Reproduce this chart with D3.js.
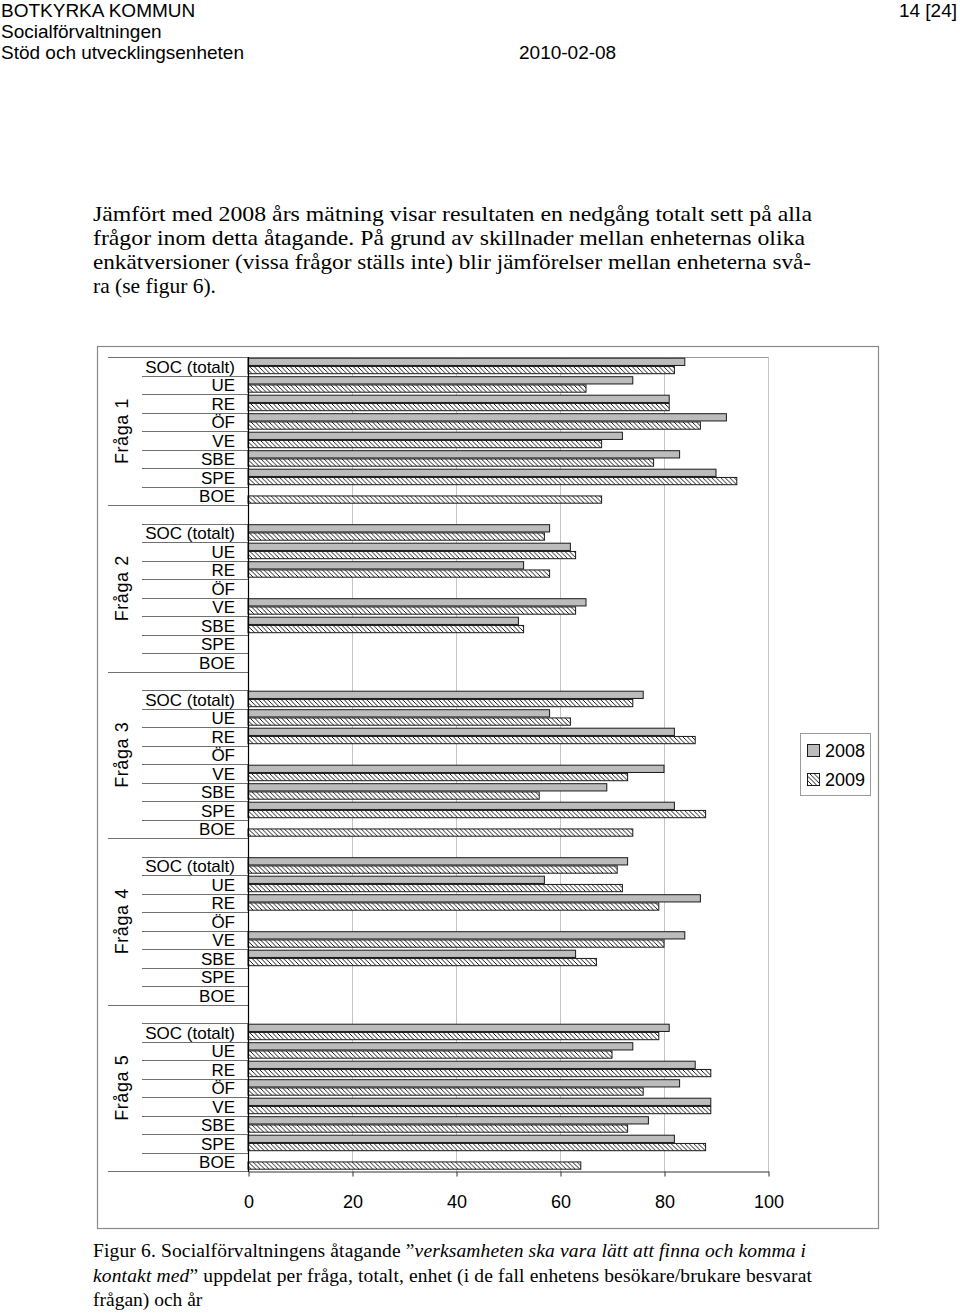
<!DOCTYPE html>
<html>
<head>
<meta charset="utf-8">
<script src="https://cdn.jsdelivr.net/npm/d3@7"></script>
<style>
  html, body { margin: 0; padding: 0; background: #fff; }
  svg { display: block; }
</style>
</head>
<body>
<svg id="page" width="960" height="1316"></svg>
<script>
// ---------- data ----------
const questions = ["Fråga 1", "Fråga 2", "Fråga 3", "Fråga 4", "Fråga 5"];
const categories = ["SOC (totalt)", "UE", "RE", "ÖF", "VE", "SBE", "SPE", "BOE"];
const seriesNames = ["2008", "2009"];
const values2008 = [
  [84, 74, 81, 92, 72, 83, 90, null],
  [58, 62, 53, null, 65, 52, null, null],
  [76, 58, 82, null, 80, 69, 82, null],
  [73, 57, 87, null, 84, 63, null, null],
  [81, 74, 86, 83, 89, 77, 82, null]
];
const values2009 = [
  [82, 65, 81, 87, 68, 78, 94, 68],
  [57, 63, 58, null, 63, 53, null, null],
  [74, 62, 86, null, 73, 56, 88, 74],
  [71, 72, 79, null, 80, 67, null, null],
  [79, 70, 89, 76, 89, 73, 88, 64]
];
const xTicks = [0, 20, 40, 60, 80, 100];

const headerLeft = ["BOTKYRKA KOMMUN", "Socialförvaltningen", "Stöd och utvecklingsenheten"];
const bodyLines = [
  "Jämfört med 2008 års mätning visar resultaten en nedgång totalt sett på alla",
  "frågor inom detta åtagande. På grund av skillnader mellan enheternas olika",
  "enkätversioner (vissa frågor ställs inte) blir jämförelser mellan enheterna svå-",
  "ra (se figur 6)."
];

// ---------- page ----------
const svg = d3.select("#page");
const sans = "'Liberation Sans', Arial, Helvetica, sans-serif";
const serif = "'Liberation Serif', 'Times New Roman', serif";

const hdr = svg.append("g").attr("font-family", sans).attr("font-size", 19).attr("fill", "#000");
headerLeft.forEach((t, i) => hdr.append("text").attr("x", 1).attr("y", 17 + i * 21).text(t));
hdr.append("text").attr("x", 957).attr("y", 17).attr("text-anchor", "end").text("14 [24]");
hdr.append("text").attr("x", 519).attr("y", 59).text("2010-02-08");

const body = svg.append("g").attr("font-family", serif).attr("font-size", 21.5).attr("fill", "#000");
const bodyWidths = [719, 712, 718, null];
bodyLines.forEach((t, i) => {
  const el = body.append("text").attr("x", 93).attr("y", 221 + i * 24).text(t);
  if (bodyWidths[i]) el.attr("textLength", bodyWidths[i]).attr("lengthAdjust", "spacingAndGlyphs");
});

// ---------- chart ----------
const frame = { x: 97, y: 346, w: 781, h: 882 };
svg.append("rect").attr("x", frame.x + 0.5).attr("y", frame.y + 0.5)
  .attr("width", frame.w).attr("height", frame.h)
  .attr("fill", "#fff").attr("stroke", "#8a8a8a").attr("stroke-width", 1.2);

const defs = svg.append("defs");
const pat = defs.append("pattern").attr("id", "hatch")
  .attr("patternUnits", "userSpaceOnUse").attr("width", 4.5).attr("height", 4.5);
pat.append("rect").attr("width", 4.5).attr("height", 4.5).attr("fill", "#fff");
pat.append("path").attr("d", "M-1,-1 L5.5,5.5 M-1,3.5 L1,5.5 M3.5,-1 L5.5,1")
  .attr("stroke", "#000").attr("stroke-width", 0.9);

const plot = { left: 248, right: 768, top: 357, bottom: 1171 };

// rows: question 1 has 8 rows, later questions start with a blank row
const rows = [];
const groups = [];
questions.forEach((q, qi) => {
  const start = rows.length;
  if (qi > 0) rows.push({ key: q + "|blank", blank: true, qi });
  categories.forEach((c, ci) => rows.push({ key: q + "|" + c, cat: c, qi, ci }));
  groups.push({ q, first: rows[start].key, last: rows[rows.length - 1].key });
});

const x = d3.scaleLinear().domain([0, 100]).range([plot.left, plot.right]);
const y = d3.scaleBand().domain(rows.map(r => r.key)).range([plot.top, plot.bottom]).padding(0);
const ySub = d3.scaleBand().domain(seriesNames).range([1.2, y.bandwidth() - 1.8]).paddingInner(0.12);

const chart = svg.append("g");

// vertical gridlines
chart.append("g").selectAll("line").data(xTicks.filter(d => d > 0)).join("line")
  .attr("x1", d => x(d) + 0.5).attr("x2", d => x(d) + 0.5)
  .attr("y1", plot.top).attr("y2", plot.bottom)
  .attr("stroke", "#c4c4c4").attr("stroke-width", 1);

// top border of plot
chart.append("line").attr("x1", plot.left).attr("x2", plot.right + 0.5)
  .attr("y1", plot.top + 0.5).attr("y2", plot.top + 0.5)
  .attr("stroke", "#9a9a9a");

// category separators
const groupBoundaries = new Set();
groups.forEach(g => { groupBoundaries.add(y(g.first)); });
const sepY = rows.map(r => y(r.key)).concat([plot.bottom]);
chart.append("g").selectAll("line").data(sepY).join("line")
  .attr("x1", d => (groupBoundaries.has(d) || d === plot.bottom) ? 108 : 142)
  .attr("x2", plot.left)
  .attr("y1", d => Math.round(d) + 0.5).attr("y2", d => Math.round(d) + 0.5)
  .attr("stroke", "#707070").attr("stroke-width", 1);

// bars
const barData = [];
rows.filter(r => !r.blank).forEach(r => {
  [values2008, values2009].forEach((arr, si) => {
    const v = arr[r.qi][r.ci];
    if (v != null) barData.push({ key: r.key, series: seriesNames[si], value: v });
  });
});
chart.append("g").selectAll("rect").data(barData).join("rect")
  .attr("x", x(0))
  .attr("y", d => y(d.key) + ySub(d.series))
  .attr("width", d => x(d.value) - x(0))
  .attr("height", ySub.bandwidth())
  .attr("fill", d => d.series === "2008" ? "#bcbcbc" : "url(#hatch)")
  .attr("stroke", "#1a1a1a").attr("stroke-width", 1);

// category labels
chart.append("g").attr("font-family", sans).attr("font-size", 17).attr("text-anchor", "end")
  .selectAll("text").data(rows.filter(r => !r.blank)).join("text")
  .attr("x", 235).attr("y", r => y(r.key) + y.bandwidth() / 2 + 1)
  .attr("dominant-baseline", "central")
  .text(r => r.cat);

// question labels (rotated)
chart.append("g").attr("font-family", sans).attr("font-size", 18)
  .selectAll("text").data(groups).join("text")
  .attr("transform", g => {
    const cy = (y(g.first) + y(g.last) + y.bandwidth()) / 2;
    return `translate(122,${cy}) rotate(-90)`;
  })
  .attr("text-anchor", "middle").attr("dominant-baseline", "central")
  .attr("letter-spacing", 0.6)
  .text(g => g.q);

// y axis line
chart.append("line").attr("x1", plot.left + 0.5).attr("x2", plot.left + 0.5)
  .attr("y1", plot.top).attr("y2", plot.bottom + 1)
  .attr("stroke", "#000").attr("stroke-width", 1.2);

// x axis
const xAxis = d3.axisBottom(x).tickValues(xTicks).tickSize(5).tickPadding(19).tickSizeOuter(0);
const xg = chart.append("g").attr("transform", `translate(0.5,${plot.bottom + 0.5})`).call(xAxis);
xg.select(".domain").attr("stroke", "#333").attr("stroke-width", 1.2);
xg.selectAll(".tick line").attr("stroke", "#333");
xg.selectAll(".tick text").attr("font-family", sans).attr("font-size", 18).attr("fill", "#000");

// legend
const lg = svg.append("g");
lg.append("rect").attr("x", 800.5).attr("y", 733.5).attr("width", 70).attr("height", 62)
  .attr("fill", "#fff").attr("stroke", "#9a9a9a");
seriesNames.forEach((s, i) => {
  const cy = 751 + i * 29;
  lg.append("rect").attr("x", 807.5).attr("y", cy - 6.5).attr("width", 12).attr("height", 12)
    .attr("fill", i === 0 ? "#bcbcbc" : "url(#hatch)").attr("stroke", "#1a1a1a");
  lg.append("text").attr("x", 825).attr("y", cy).attr("dominant-baseline", "central")
    .attr("font-family", sans).attr("font-size", 18).text(s);
});

// caption
const cap = svg.append("g").attr("font-family", serif).attr("font-size", 19.5).attr("fill", "#000");
const c1 = cap.append("text").attr("x", 93).attr("y", 1257).attr("textLength", 713).attr("lengthAdjust", "spacing");
c1.append("tspan").text("Figur 6. Socialförvaltningens åtagande ”");
c1.append("tspan").attr("font-style", "italic").text("verksamheten ska vara lätt att finna och komma i");
const c2 = cap.append("text").attr("x", 93).attr("y", 1282).attr("textLength", 719).attr("lengthAdjust", "spacing");
c2.append("tspan").attr("font-style", "italic").text("kontakt med");
c2.append("tspan").text("” uppdelat per fråga, totalt, enhet (i de fall enhetens besökare/brukare besvarat");
cap.append("text").attr("x", 93).attr("y", 1306).text("frågan) och år");
</script>
</body>
</html>
